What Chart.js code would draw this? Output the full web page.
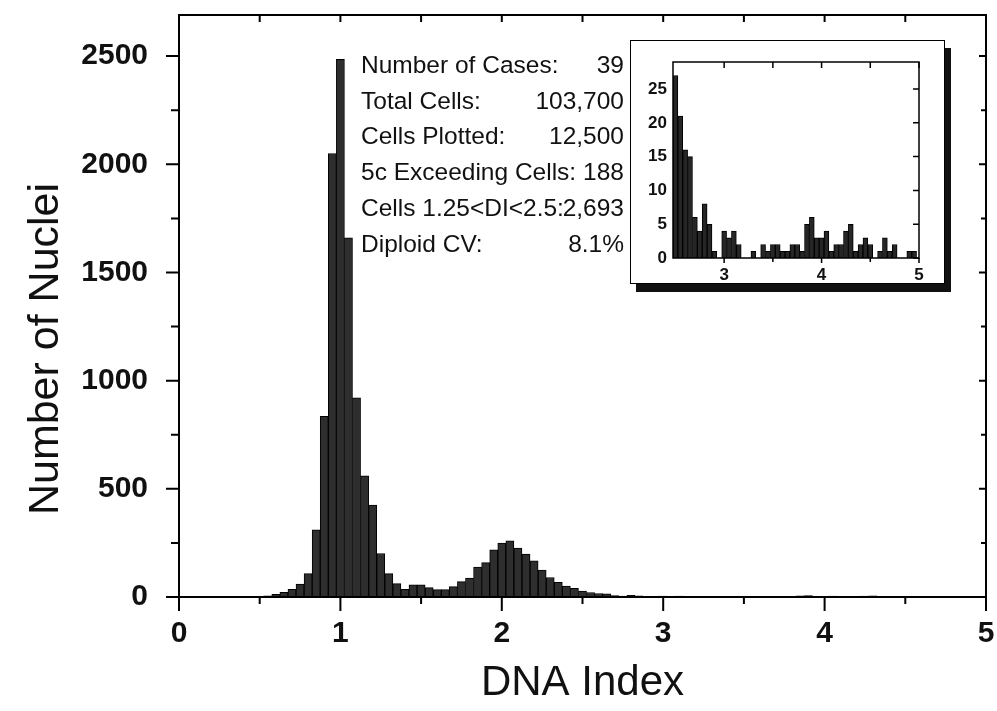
<!DOCTYPE html>
<html>
<head>
<meta charset="utf-8">
<title>DNA Index histogram</title>
<script src="https://cdn.jsdelivr.net/npm/chart.js@4.4.0/dist/chart.umd.min.js"></script>
<style>
  html, body { margin: 0; padding: 0; background: #fff; }
  #wrap { position: relative; width: 997px; height: 711px; }
  #mainChart { position: absolute; left: 0; top: 0; }
  #insetBox {
    position: absolute; left: 630px; top: 40px; width: 315px; height: 244px;
    box-sizing: border-box; border: 1px solid #000; background: #fff;
    box-shadow: 6px 8px 0 #111;
  }
  #insetChart { display: block; }
</style>
</head>
<body>
<div id="wrap">
  <canvas id="mainChart" width="997" height="711"></canvas>
  <div id="insetBox"><canvas id="insetChart" width="313" height="242"></canvas></div>
</div>
<script>
// DONNEES : centres des classes (DNA index) et nombre de noyaux
const mainDI = [0.45, 0.50, 0.55, 0.60, 0.65, 0.70, 0.75, 0.80, 0.85, 0.90,
                0.95, 1.00, 1.05, 1.10, 1.15, 1.20, 1.25, 1.30, 1.35, 1.40,
                1.45, 1.50, 1.55, 1.60, 1.65, 1.70, 1.75, 1.80, 1.85, 1.90,
                1.95, 2.00, 2.05, 2.10, 2.15, 2.20, 2.25, 2.30, 2.35, 2.40, 2.45];
const mainCounts = [0, 2, 5, 12, 22, 35, 60, 108, 310, 835,
                    2050, 2485, 1660, 920, 560, 425, 201, 108, 62, 36,
                    56, 56, 43, 34, 34, 48, 71, 87, 138, 159,
                    218, 249, 260, 226, 198, 167, 125, 90, 68, 51, 40];

// queue de distribution (> 2.5), reprise dans l'encart
const tailDI = [2.50, 2.55, 2.60, 2.65, 2.70, 2.75, 2.80, 2.85, 2.90, 2.95,
                3.00, 3.05, 3.10, 3.15, 3.20, 3.25, 3.30, 3.35, 3.40, 3.45,
                3.50, 3.55, 3.60, 3.65, 3.70, 3.75, 3.80, 3.85, 3.90, 3.95,
                4.00, 4.05, 4.10, 4.15, 4.20, 4.25, 4.30, 4.35, 4.40, 4.45,
                4.50, 4.55, 4.60, 4.65, 4.70, 4.75, 4.80, 4.85, 4.90, 4.95];
const tailCounts = [27, 21, 16, 15, 6, 4, 8, 5, 1, 0,
                    4, 3, 4, 2, 0, 0, 1, 0, 2, 1,
                    2, 2, 1, 1, 2, 2, 1, 5, 6, 3,
                    3, 4, 1, 2, 2, 4, 5, 1, 2, 3,
                    2, 0, 1, 3, 1, 2, 0, 0, 1, 1];

const statLabels = ['Number of Cases:', 'Total Cells:', 'Cells Plotted:',
                    '5c Exceeding Cells:', 'Cells 1.25<DI<2.5:', 'Diploid CV:'];
const statValues = ['39', '103,700', '12,500', '188', '2,693', '8.1%'];

const mainXTicks = [0, 1, 2, 3, 4, 5];
const mainXMinor = [0.5, 1.5, 2.5, 3.5, 4.5];
const mainYTicks = [0, 500, 1000, 1500, 2000, 2500];
const mainYMinor = [250, 750, 1250, 1750, 2250];
const insetXTicks = [3, 4, 5];
const insetXMinor = [3.5, 4.5];
const insetYTicks = [0, 5, 10, 15, 20, 25];

const FONT = "'Liberation Sans', Arial, Helvetica, sans-serif";
const INK = '#111';

// cadre + graduations sur les quatre cotes
const frameTicks = {
    id: 'frameTicks',
    afterDatasetsDraw(chart, args, o) {
        const {ctx, chartArea: a} = chart;
        const sx = chart.scales.x, sy = chart.scales.y;
        ctx.save();
        ctx.strokeStyle = '#000';
        ctx.lineWidth = o.lineWidth;
        ctx.strokeRect(a.left, a.top, a.right - a.left, a.bottom - a.top);
        ctx.beginPath();
        o.x.forEach(([v, down, top]) => {
            const px = sx.getPixelForValue(v);
            if (down) { ctx.moveTo(px, a.bottom); ctx.lineTo(px, a.bottom + down); }
            if (top) { ctx.moveTo(px, a.top); ctx.lineTo(px, a.top + top); }
        });
        o.y.forEach(([v, left, right]) => {
            const py = sy.getPixelForValue(v);
            if (left) { ctx.moveTo(a.left, py); ctx.lineTo(a.left - left, py); }
            if (right) { ctx.moveTo(a.right, py); ctx.lineTo(a.right - right, py); }
        });
        ctx.stroke();
        ctx.restore();
    }
};

// texte du bloc statistique + titre vertical
const mainText = {
    id: 'mainText',
    afterDraw(chart, args, o) {
        const ctx = chart.ctx;
        ctx.save();
        ctx.fillStyle = INK;
        ctx.font = o.statFont;
        ctx.textBaseline = 'alphabetic';
        statLabels.forEach((t, i) => {
            const yy = o.statTop + i * o.statStep;
            ctx.textAlign = 'left';
            ctx.fillText(t, o.statLeft, yy);
            ctx.textAlign = 'right';
            ctx.fillText(statValues[i], o.statRight, yy);
        });
        ctx.translate(o.yTitleX, o.yTitleY);
        ctx.rotate(-Math.PI / 2);
        ctx.font = o.titleFont;
        ctx.textAlign = 'center';
        ctx.textBaseline = 'middle';
        ctx.fillText(o.yTitle, 0, 0);
        ctx.restore();
    }
};

function barData(xs, ys) {
    return xs.map((d, i) => ({x: d, y: ys[i]}));
}

// pas de marge automatique autour des axes : la zone de tracé est fixée à la main
function fixX(h) {
    return scale => { scale.height = h; scale.paddingLeft = 0; scale.paddingRight = 0; };
}
function fixY(w) {
    return scale => { scale.width = w; scale.paddingTop = 0; scale.paddingBottom = 0; };
}

new Chart(document.getElementById('mainChart'), {
    type: 'bar',
    data: {
        datasets: [{
            data: barData(mainDI.concat(tailDI), mainCounts.concat(tailCounts)),
            backgroundColor: '#2e2e2e',
            borderColor: '#000',
            borderWidth: 1,
            barPercentage: 1,
            categoryPercentage: 1,
        }]
    },
    options: {
        responsive: false,
        animation: false,
        events: [],
        layout: { padding: { top: 15, right: 11, left: 0, bottom: 0 } },
        plugins: {
            legend: { display: false },
            tooltip: { enabled: false },
            frameTicks: {
                lineWidth: 2,
                x: mainXTicks.map(v => [v, 14, 7]).concat(mainXMinor.map(v => [v, 7, 7])),
                y: mainYTicks.map(v => [v, 13, 7]).concat(mainYMinor.map(v => [v, 8, 5])),
            },
            mainText: {
                statFont: '24.5px ' + FONT,
                statLeft: 361, statRight: 624, statTop: 73, statStep: 35.7,
                titleFont: '43px ' + FONT,
                yTitle: 'Number of Nuclei', yTitleX: 46, yTitleY: 349,
            },
        },
        scales: {
            x: {
                type: 'linear',
                min: 0, max: 5,
                offset: false,
                grid: { display: false, drawTicks: false },
                border: { display: false },
                afterBuildTicks: axis => { axis.ticks = mainXTicks.map(v => ({value: v})); },
                afterFit: fixX(114),
                ticks: {
                    color: INK,
                    padding: 19,
                    maxRotation: 0,
                    callback: v => String(v),
                    font: { family: FONT, size: 30, weight: 'bold' },
                },
                title: {
                    display: true,
                    text: 'DNA Index',
                    color: INK,
                    padding: { top: 0, bottom: 2 },
                    font: { family: FONT, size: 42 },
                },
            },
            y: {
                min: 0, max: 2690,
                grid: { display: false, drawTicks: false },
                border: { display: false },
                afterBuildTicks: axis => { axis.ticks = mainYTicks.map(v => ({value: v})); },
                afterFit: fixY(179),
                ticks: {
                    color: INK,
                    padding: 31,
                    callback: v => String(v),
                    font: { family: FONT, size: 30, weight: 'bold' },
                },
            },
        },
    },
    plugins: [frameTicks, mainText],
});

// ENCART : queue de la distribution au-dela de 2.5
new Chart(document.getElementById('insetChart'), {
    type: 'bar',
    data: {
        datasets: [{
            data: barData(tailDI, tailCounts),
            backgroundColor: '#262626',
            borderColor: '#000',
            borderWidth: 1,
            barPercentage: 1,
            categoryPercentage: 1,
        }]
    },
    options: {
        responsive: false,
        animation: false,
        events: [],
        layout: { padding: { top: 21, right: 25, left: 0, bottom: 0 } },
        plugins: {
            legend: { display: false },
            tooltip: { enabled: false },
            frameTicks: {
                lineWidth: 1.5,
                x: insetXTicks.map(v => [v, 5, 6]).concat(insetXMinor.map(v => [v, 4, 6])),
                y: insetYTicks.map(v => [v, 0, 6]),
            },
        },
        scales: {
            x: {
                type: 'linear',
                min: 2.475, max: 5,
                offset: false,
                grid: { display: false, drawTicks: false },
                border: { display: false },
                afterBuildTicks: axis => { axis.ticks = insetXTicks.map(v => ({value: v})); },
                afterFit: fixX(25),
                ticks: {
                    color: INK,
                    padding: 7,
                    maxRotation: 0,
                    callback: v => String(v),
                    font: { family: FONT, size: 17, weight: 'bold' },
                },
            },
            y: {
                min: 0, max: 29,
                grid: { display: false, drawTicks: false },
                border: { display: false },
                afterBuildTicks: axis => { axis.ticks = insetYTicks.map(v => ({value: v})); },
                afterFit: fixY(42),
                ticks: {
                    color: INK,
                    padding: 6,
                    callback: v => String(v),
                    font: { family: FONT, size: 17, weight: 'bold' },
                },
            },
        },
    },
    plugins: [frameTicks],
});
</script>
</body>
</html>
